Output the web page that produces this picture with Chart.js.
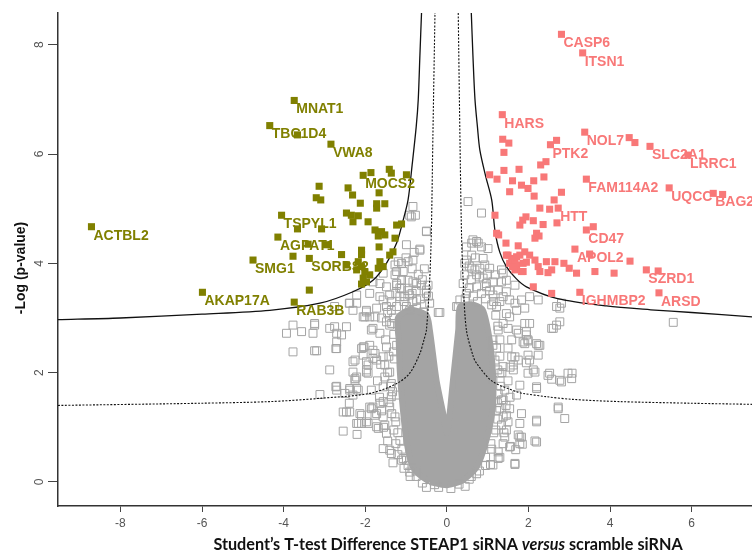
<!DOCTYPE html>
<html>
<head>
<meta charset="utf-8">
<script src="https://cdn.jsdelivr.net/npm/chart.js@4.4.1/dist/chart.umd.min.js"></script>
<style>
  html, body { margin: 0; padding: 0; background: #fff; }
  #wrap { width: 752px; height: 555px; }
</style>
</head>
<body>
<div id="wrap"><canvas id="volcano" width="752" height="555"></canvas></div>
<script>
// axis ticks
const xTicks = [-8, -6, -4, -2, 0, 2, 4, 6];
const yTicks = [0, 2, 4, 6, 8];

// significant, down (olive) : labelled genes [name, diff, -log p]
const oliveGenes = [
    ['MNAT1', -3.74, 6.98], ['TBC1D4', -4.34, 6.52], ['VWA8', -2.84, 6.18],
    ['MOCS2', -2.05, 5.61], ['ACTBL2', -8.71, 4.67], ['TSPYL1', -4.05, 4.88],
    ['AGPAT1', -4.14, 4.48], ['SMG1', -4.75, 4.06], ['SORBS2', -3.37, 4.09],
    ['AKAP17A', -5.99, 3.47], ['RAB3B', -3.74, 3.29],
];
const oliveOther = [
    [-3.66, 6.35], [-1.86, 5.66], [-1.41, 5.72], [-1.36, 5.65], [-0.99, 5.62],
    [-3.13, 5.41], [-3.20, 5.20], [-3.09, 5.16], [-2.42, 5.38], [-2.31, 5.25],
    [-1.66, 5.29], [-2.12, 5.10], [-1.72, 5.09], [-1.52, 5.09], [-1.72, 5.01],
    [-2.46, 4.92], [-2.34, 4.88], [-2.17, 4.87], [-2.30, 4.76], [-1.93, 4.76],
    [-1.23, 4.70], [-1.11, 4.72], [-3.66, 4.63], [-3.07, 4.63], [-1.76, 4.61],
    [-1.60, 4.58], [-1.68, 4.50], [-1.52, 4.52], [-1.27, 4.46], [-3.40, 4.35],
    [-2.95, 4.34], [-1.66, 4.30], [-2.09, 4.24], [-2.09, 4.16], [-1.32, 4.21],
    [-1.40, 4.15], [-2.58, 4.16], [-3.77, 4.13], [-2.17, 4.03], [-2.46, 3.97],
    [-1.64, 4.03], [-2.21, 3.88], [-2.01, 3.85], [-1.89, 3.79], [-2.05, 3.73],
    [-1.68, 3.91], [-1.56, 3.94], [-1.97, 3.66], [-3.37, 3.51], [-2.09, 3.62],
    [-2.09, 3.94],
];

// significant, up (salmon)
const salmonGenes = [
    ['CASP6', 2.81, 8.19], ['ITSN1', 3.33, 7.85], ['HARS', 1.36, 6.72],
    ['NOL7', 3.38, 6.40], ['PTK2', 2.54, 6.17], ['SLC2A1', 4.98, 6.14],
    ['LRRC1', 5.91, 5.98], ['FAM114A2', 3.42, 5.54], ['UQCC', 5.45, 5.38],
    ['BAG2', 6.53, 5.28], ['HTT', 2.73, 5.01], ['CD47', 3.42, 4.61],
    ['APOL2', 3.14, 4.26], ['SZRD1', 4.89, 3.88], ['IGHMBP2', 3.26, 3.47],
    ['ARSD', 5.20, 3.46],
];
const salmonOther = [
    [4.47, 6.30], [4.61, 6.21], [6.76, 5.26], [3.59, 4.67], [3.50, 4.17],
    [4.49, 4.04], [3.63, 3.85], [4.10, 3.82], [5.18, 3.86],
    [1.37, 6.27], [1.52, 6.20], [1.40, 6.03], [2.69, 6.25], [2.30, 5.80],
    [2.43, 5.86], [1.05, 5.62], [1.23, 5.54], [1.40, 5.70], [1.77, 5.72],
    [1.61, 5.51], [1.83, 5.43], [1.99, 5.37], [2.13, 5.51], [2.38, 5.58],
    [1.54, 5.31], [2.14, 5.23], [2.81, 5.30], [2.63, 5.16], [2.28, 5.01],
    [2.52, 4.99], [1.18, 4.88], [1.94, 4.85], [1.86, 4.79], [1.79, 4.70],
    [2.12, 4.78], [2.36, 4.71], [2.70, 4.74], [2.20, 4.55], [2.26, 4.50],
    [2.16, 4.46], [1.27, 4.52], [1.45, 4.37], [1.75, 4.32], [1.22, 4.55],
    [1.50, 4.15], [1.63, 4.09], [1.79, 4.15], [1.91, 4.21], [2.03, 4.15],
    [2.16, 4.06], [1.54, 4.00], [1.71, 3.97], [1.87, 4.00], [2.24, 3.94],
    [1.67, 3.88], [1.83, 3.85], [2.28, 3.85], [2.44, 4.03], [2.65, 4.03],
    [2.87, 4.00], [3.00, 3.91], [3.18, 3.82], [2.57, 3.88], [2.48, 3.83],
    [2.12, 3.57], [2.57, 3.45], [1.46, 4.15], [1.59, 4.06], [1.67, 4.00],
    [1.61, 3.94], [1.87, 3.85], [1.71, 4.12], [1.95, 4.02],
];

// non-significant proteins (grey), read around the dense core
const greyPoints = [
    [-0.99, 4.34], [-0.77, 4.88], [-0.87, 4.85], [-0.50, 4.58], [-0.66, 4.24],
    [-0.83, 4.06], [-0.95, 4.03], [-1.19, 4.03], [-1.23, 3.85], [-1.27, 3.79],
    [-1.07, 3.85], [-1.11, 3.69], [-1.23, 3.60], [-0.95, 3.69], [-0.83, 3.66],
    [-0.62, 3.60], [-0.50, 3.51], [-1.11, 3.54], [-1.81, 3.66], [-1.89, 3.45],
    [-1.64, 3.39], [-1.40, 3.42], [-1.15, 3.39], [-1.03, 3.39], [-0.74, 3.33],
    [-0.42, 3.27], [-0.21, 3.10], [-2.21, 3.42], [-2.39, 3.27], [-2.30, 3.14],
    [-1.97, 3.14], [-2.01, 3.02], [-1.89, 3.02], [-1.72, 3.18], [-1.48, 3.21],
    [-1.36, 3.14], [-1.23, 3.21], [-0.91, 3.14], [-0.74, 3.18], [-0.58, 3.11],
    [-1.81, 2.81], [-2.46, 2.84], [-2.75, 2.84], [-2.87, 2.81], [-3.24, 2.87],
    [-3.93, 2.72], [-3.56, 2.75], [-3.28, 2.72], [-2.70, 2.72], [-2.58, 2.69],
    [-2.03, 2.47], [-1.64, 2.72], [-1.48, 2.93], [-1.40, 2.87], [-3.77, 2.87],
    [-3.24, 2.90], [-3.77, 2.38], [-3.24, 2.40], [-2.70, 2.56], [-2.72, 2.44],
    [-2.87, 2.05], [-2.72, 1.74], [-3.11, 1.60], [-2.50, 1.62], [-2.38, 1.71],
    [-2.21, 1.71], [-2.30, 2.20], [-2.30, 2.01], [-2.25, 1.86], [-2.21, 1.92],
    [-2.09, 2.44], [-2.05, 2.32], [-1.97, 2.20], [-1.97, 2.05], [-1.93, 1.99],
    [-1.81, 2.41], [-1.81, 2.26], [-1.85, 2.78], [-1.76, 3.02], [-2.05, 3.02],
    [-1.97, 3.11], [-2.21, 3.27], [-2.38, 3.27], [-2.39, 1.44], [-2.38, 1.28],
    [-2.13, 1.25], [-1.89, 1.37], [-2.21, 1.07], [-2.09, 1.07], [-1.93, 1.07],
    [-2.54, 0.93], [-2.20, 0.87], [-1.72, 1.01], [-1.76, 1.22], [-3.19, 2.40],
    [-2.70, 2.44], [-2.25, 1.89], [-2.70, 1.75], [-2.38, 1.68], [-2.17, 1.68],
    [-2.46, 1.28], [-2.09, 1.22], [-2.17, 1.07], [-1.85, 1.34], [-1.72, 1.25],
    [-1.68, 0.98], [-1.56, 1.19], [-1.52, 1.04], [-1.48, 0.89], [-1.56, 0.61],
    [-1.40, 0.58], [-1.36, 0.52], [-1.07, 0.43], [-0.99, 0.40], [-1.15, 0.76],
    [-1.27, 1.19], [-1.40, 1.37], [-1.64, 1.44], [-1.56, 1.47], [-1.36, 1.56],
    [-1.23, 1.59], [-1.85, 1.68], [-1.97, 2.01], [-1.93, 2.14], [-1.72, 2.23],
    [-1.56, 2.29], [-1.52, 2.14], [-1.40, 2.01], [-1.52, 1.92], [-1.36, 1.80],
    [-1.56, 1.74], [-1.76, 2.35], [-2.05, 2.47], [-1.89, 2.50], [-1.48, 2.47],
    [-1.31, 2.38], [-1.23, 2.50], [-0.83, 0.25], [-0.91, 0.18], [-1.56, 3.33],
    [-2.75, 3.21], [-2.25, 2.23], [-0.91, 3.42], [-0.83, 3.30], [-0.99, 3.21],
    [-0.50, 3.45], [-0.46, 3.60], [-0.74, 3.63], [-1.23, 3.63], [-1.48, 3.57],
    [-1.64, 3.63], [-2.54, 1.28], [-2.30, 1.59], [-2.70, 1.68], [-1.97, 1.10],
    [-1.81, 1.37], [-1.11, 0.40], [-0.83, 5.04], [-0.91, 4.88], [-0.50, 4.59],
    [-0.66, 4.26], [-1.11, 4.00], [-1.27, 3.97], [-1.56, 3.82], [-0.17, 3.10],
    [-1.30, 2.70], [-1.28, 2.25], [-1.33, 1.65], [-1.25, 1.10], [-1.20, 0.90],
    [-1.10, 0.60], [-0.95, 0.30], [-0.75, 0.10], [-0.60, -0.02], [-1.30, 3.00],
    [-1.35, 3.30], [-1.25, 3.45], [-1.15, 3.55], [-1.05, 3.30], [-0.95, 3.50],
    [-0.85, 3.45], [-0.75, 3.50], [-0.65, 3.35], [-0.55, 3.25], [-0.60, 3.70],
    [-0.70, 3.80], [-0.85, 3.90], [-1.00, 4.10], [-0.80, 4.20], [-0.55, 3.90],
    [-0.45, 3.40], [-1.45, 3.10], [-1.60, 3.00], [-1.35, 2.90], [-1.50, 2.60],
    [-1.42, 2.30], [-1.45, 2.00], [-1.38, 1.75], [-1.42, 1.45], [-1.35, 1.25],
    [-1.30, 0.95], [-1.25, 0.70], [-1.20, 0.50], [-1.05, 0.25], [-0.90, 0.10],
    [-1.62, 2.15], [-1.70, 1.85], [-1.65, 1.55], [-1.60, 1.30], [-1.55, 1.00],
    [-1.45, 0.75], [-1.32, 0.35], [-0.50, -0.10], [-0.20, -0.10], [-0.75, 0.20],
    [0.28, 3.21], [0.48, 3.45], [0.73, 3.57], [0.97, 3.63], [1.13, 3.42],
    [1.38, 3.39], [1.22, 3.21], [1.46, 3.08], [1.67, 3.27], [1.83, 3.33],
    [1.91, 3.18], [2.03, 2.90], [1.71, 2.78], [1.95, 2.75], [2.20, 2.53],
    [1.59, 2.60], [1.67, 2.29], [2.03, 2.23], [2.24, 2.32], [2.12, 2.05],
    [2.52, 1.99], [2.77, 1.86], [2.97, 1.99], [3.06, 1.89], [2.20, 1.74],
    [2.77, 3.18], [2.69, 2.87], [2.57, 2.81], [1.83, 1.25], [1.79, 1.07],
    [2.20, 1.13], [2.73, 1.37], [2.89, 1.16], [2.20, 0.73], [1.83, 0.82],
    [1.67, 0.34], [1.54, 0.64], [1.13, 0.31], [1.26, 0.43], [1.38, 0.70],
    [1.46, 0.95], [1.38, 1.19], [1.34, 1.50], [1.54, 1.34], [1.13, 2.50],
    [1.87, 2.56], [1.99, 2.58], [2.24, 2.50], [1.59, 2.29], [1.75, 2.23],
    [1.99, 2.32], [1.95, 2.18], [1.63, 2.14], [1.38, 2.11], [1.63, 2.05],
    [1.99, 1.99], [2.16, 2.01], [2.48, 1.95], [2.57, 1.88], [2.81, 1.83],
    [3.07, 1.99], [2.20, 1.71], [1.79, 1.77], [1.42, 1.68], [1.71, 1.59],
    [1.46, 1.22], [1.38, 1.50], [1.34, 1.04], [1.42, 0.82], [1.79, 0.82],
    [2.16, 0.75], [1.56, 0.65], [1.85, 0.69], [1.69, 0.59], [1.26, 0.55],
    [1.67, 0.32], [1.07, 0.32], [0.73, 0.15], [1.22, 1.31], [1.26, 1.62],
    [1.13, 1.86], [1.30, 1.99], [1.18, 2.23], [2.77, 2.93], [2.61, 2.81],
    [1.91, 2.90], [1.99, 2.60], [2.73, 1.34], [2.20, 1.10], [1.75, 0.86],
    [1.79, 0.70], [5.55, 2.92], [0.85, 4.92], [0.61, 4.37], [0.73, 4.40],
    [0.85, 4.30], [0.89, 4.09], [0.93, 3.97], [0.61, 4.15], [0.48, 4.06],
    [0.61, 3.91], [0.81, 3.91], [1.05, 3.91], [1.18, 3.79], [1.34, 3.88],
    [0.73, 3.79], [0.89, 3.73], [1.13, 3.66], [1.34, 3.66], [1.46, 3.69],
    [1.67, 3.60], [1.26, 3.51], [1.46, 3.48], [0.97, 3.57], [1.54, 3.33],
    [1.30, 3.30], [1.10, 3.24], [1.71, 3.14], [1.54, 3.02], [1.38, 2.90],
    [1.50, 2.81], [1.75, 2.72], [1.95, 2.69], [1.26, 2.78], [1.13, 2.60],
    [1.91, 2.53], [2.28, 2.50], [2.03, 3.39], [2.24, 3.33], [2.69, 3.21],
    [2.81, 3.27], [0.24, 3.21], [0.32, 3.33], [0.40, 3.63], [0.44, 3.79],
    [0.48, 4.30], [0.52, 5.13], [0.44, 4.00], [0.64, 4.43], [0.77, 4.37],
    [1.01, 4.27], [0.69, 3.88], [1.38, 3.82], [1.22, 2.45], [1.25, 2.05],
    [1.24, 1.45], [1.20, 0.95], [1.08, 0.70], [0.95, 0.45], [0.55, 0.05],
    [0.30, -0.04], [-0.30, -0.05], [0.45, 3.35], [0.55, 3.55], [0.65, 3.40],
    [0.75, 3.30], [0.85, 3.45], [0.95, 3.35], [1.05, 3.50], [1.15, 3.30],
    [0.60, 3.70], [0.80, 3.75], [1.00, 3.80], [0.55, 3.95], [0.70, 4.10],
    [1.20, 3.05], [1.25, 2.85], [1.30, 2.60], [1.30, 2.30], [1.35, 2.00],
    [1.32, 1.75], [1.30, 1.35], [1.25, 1.15], [1.15, 0.90], [1.10, 0.60],
    [0.95, 0.30], [0.80, 0.20], [1.50, 2.45], [1.55, 2.10], [1.50, 1.85],
    [1.55, 1.55], [1.45, 1.40], [1.50, 1.10], [1.40, 0.90], [1.30, 0.45],
    [0.10, -0.12], [0.45, -0.08], [0.60, 0.10],
];

// dense core of the grey cloud (outline)
const coreOutline = [
    [-0.42, 0.00], [-0.70, 0.15], [-0.85, 0.30], [-0.99, 0.75], [-1.08, 1.35],
    [-1.15, 2.00], [-1.18, 2.60], [-1.20, 3.00], [-0.90, 3.15], [-0.50, 3.05],
    [-0.42, 2.80], [-0.25, 1.85], [-0.09, 1.26], [0.00, 0.89], [0.07, 1.26],
    [0.15, 1.86], [0.28, 2.78], [0.32, 3.20], [0.60, 3.25], [0.88, 3.15],
    [1.05, 2.60], [1.13, 1.99], [1.13, 1.37], [0.97, 0.76], [0.73, 0.27],
    [0.39, 0.03], [0.00, -0.06], [-0.42, 0.00],
];

// significance curves (FDR / s0)
const solidLeft = [
    [-9.53, 2.97], [-8, 3.0], [-6, 3.07], [-4.34, 3.14], [-3.11, 3.27],
    [-2.3, 3.48], [-1.81, 3.69], [-1.48, 4.0], [-1.23, 4.37], [-1.07, 4.79],
    [-0.95, 5.16], [-0.85, 5.8], [-0.75, 6.5], [-0.70, 7.0], [-0.66, 7.8], [-0.62, 8.58],
];
const solidRight = [
    [0.60, 8.58], [0.64, 7.8], [0.69, 7.0], [0.75, 6.5], [0.81, 6.07],
    [0.95, 5.6], [1.10, 5.16], [1.18, 4.6], [1.30, 4.2], [1.46, 3.94],
    [1.7, 3.72], [1.95, 3.57], [2.69, 3.36], [3.91, 3.22], [5, 3.15],
    [6, 3.1], [7.48, 3.02],
];
const dashedLeft = [
    [-9.53, 1.40], [-6.05, 1.44], [-4.34, 1.47], [-3.11, 1.53], [-1.89, 1.62],
    [-1.23, 1.80], [-0.91, 1.99], [-0.66, 2.35], [-0.56, 2.6], [-0.5, 2.78],
    [-0.42, 3.7], [-0.38, 4.55], [-0.34, 6.38], [-0.29, 8.58],
];
const dashedRight = [
    [0.28, 8.58], [0.32, 6.38], [0.36, 4.55], [0.40, 3.69], [0.48, 2.78],
    [0.65, 2.29], [0.73, 2.17], [1.1, 1.85], [1.71, 1.65], [1.87, 1.62],
    [2.44, 1.56], [3.10, 1.51], [4.24, 1.47], [6.01, 1.44], [7.48, 1.42],
];

const OLIVE = '#808000';
const SALMON = '#f87878';
const GREY = '#a4a4a4';
const FONT = '"Liberation Sans", Arial, sans-serif';

const toXY = arr => arr.map(([x, y]) => ({ x, y }));
const geneXY = arr => arr.map(([, x, y]) => ({ x, y }));

function curve(points, dashed) {
    return {
        type: 'line',
        data: toXY(points),
        showLine: true,
        borderColor: '#111',
        borderWidth: dashed ? 1.1 : 1.3,
        borderDash: dashed ? [2, 1.5] : [],
        pointRadius: 0,
        tension: 0.3,
        fill: false,
        order: 1,
    };
}

// gene names next to the markers + rotated y tick labels + axis titles
const overlay = {
    id: 'overlay',
    afterDatasetsDraw(chart) {
        const { ctx, scales: { x, y } } = chart;
        ctx.save();
        ctx.font = 'bold 14px ' + FONT;
        ctx.textAlign = 'left';
        ctx.textBaseline = 'middle';
        [[oliveGenes, OLIVE], [salmonGenes, SALMON]].forEach(([genes, col]) => {
            ctx.fillStyle = col;
            genes.forEach(([name, gx, gy]) => {
                ctx.fillText(name, x.getPixelForValue(gx) + 2, y.getPixelForValue(gy) + 9);
            });
        });
        ctx.restore();
    },
    afterDraw(chart) {
        const { ctx, scales: { y } } = chart;
        ctx.save();
        ctx.fillStyle = '#555';
        ctx.font = '12px ' + FONT;
        ctx.textAlign = 'center';
        ctx.textBaseline = 'middle';
        yTicks.forEach(v => {
            ctx.save();
            ctx.translate(40, y.getPixelForValue(v));
            ctx.rotate(-Math.PI / 2);
            ctx.fillText(String(v), 0, 0);
            ctx.restore();
        });

        // y title
        ctx.fillStyle = '#111';
        ctx.font = 'bold 14px ' + FONT;
        ctx.save();
        ctx.translate(21, 268);
        ctx.rotate(-Math.PI / 2);
        ctx.fillText('-Log (p-value)', 0, 0);
        ctx.restore();

        // x title with italic "versus"
        const parts = [
            ['Student\u2019s T-test Difference STEAP1 siRNA ', 'bold 16.2px Lato, sans-serif'],
            ['versus', 'italic bold 16.2px Lato, sans-serif'],
            [' scramble siRNA', 'bold 16.2px Lato, sans-serif'],
        ];
        let total = 0;
        parts.forEach(([t, f]) => { ctx.font = f; total += ctx.measureText(t).width; });
        let cx = 448 - total / 2;
        ctx.textAlign = 'left';
        parts.forEach(([t, f]) => {
            ctx.font = f;
            ctx.fillText(t, cx, 545);
            cx += ctx.measureText(t).width;
        });
        ctx.restore();
    },
};

new Chart(document.getElementById('volcano'), {
    type: 'scatter',
    data: {
        datasets: [
            {
                data: geneXY(salmonGenes).concat(toXY(salmonOther)),
                pointStyle: 'rect',
                pointRadius: 5,
                backgroundColor: SALMON,
                borderColor: SALMON,
                borderWidth: 0,
                order: 0,
            },
            {
                data: geneXY(oliveGenes).concat(toXY(oliveOther)),
                pointStyle: 'rect',
                pointRadius: 5,
                backgroundColor: OLIVE,
                borderColor: OLIVE,
                borderWidth: 0,
                order: 0,
            },
            curve(solidLeft, false),
            curve(solidRight, false),
            curve(dashedLeft, true),
            curve(dashedRight, true),
            {
                data: toXY(greyPoints),
                pointStyle: 'rect',
                pointRadius: 5.6,
                backgroundColor: 'rgba(0,0,0,0)',
                borderColor: GREY,
                borderWidth: 1,
                order: 2,
            },
            {
                type: 'line',
                data: toXY(coreOutline),
                showLine: true,
                pointRadius: 0,
                borderColor: GREY,
                borderWidth: 6,
                backgroundColor: GREY,
                fill: 'shape',
                tension: 0.25,
                order: 3,
            },
        ],
    },
    options: {
        responsive: false,
        animation: false,
        events: [],
        layout: { autoPadding: false, padding: { top: 13, right: 0, left: 0, bottom: 0 } },
        plugins: { legend: { display: false }, tooltip: { enabled: false } },
        scales: {
            x: {
                type: 'linear',
                min: -9.53,
                max: 7.48,
                afterBuildTicks: s => { s.ticks = xTicks.map(v => ({ value: v })); },
                afterFit: s => { s.height = 49; s.paddingLeft = 0; s.paddingRight = 0; },
                grid: { drawOnChartArea: false, drawTicks: true, tickLength: 6, color: '#444', lineWidth: 1 },
                border: { display: true, color: '#333', width: 1.5 },
                ticks: { color: '#555', font: { family: FONT, size: 12 }, padding: 4, maxRotation: 0 },
            },
            y: {
                type: 'linear',
                min: -0.44,
                max: 8.58,
                afterBuildTicks: s => { s.ticks = yTicks.map(v => ({ value: v })); },
                afterFit: s => { s.width = 58; s.paddingTop = 0; s.paddingBottom = 0; },
                grid: { drawOnChartArea: false, drawTicks: true, tickLength: 10, color: '#444', lineWidth: 1 },
                border: { display: true, color: '#333', width: 1.5 },
                ticks: { display: false },
            },
        },
    },
    plugins: [overlay],
});
</script>
</body>
</html>
